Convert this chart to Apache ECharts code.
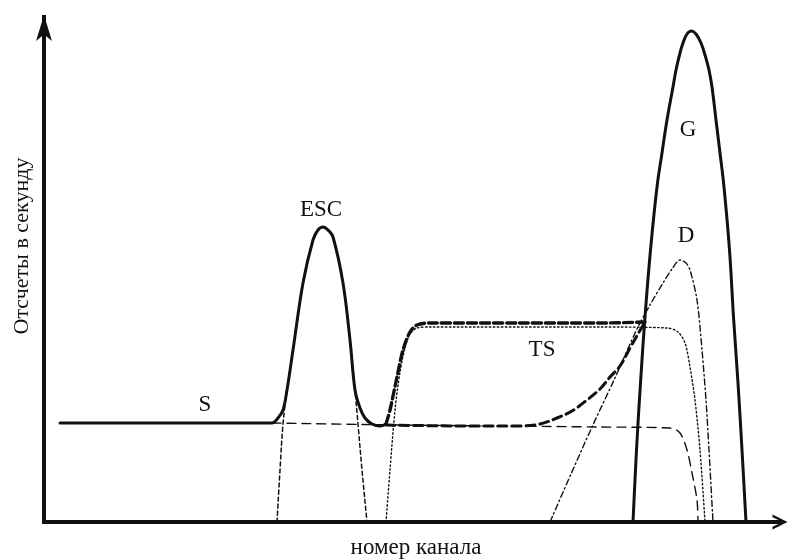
<!DOCTYPE html>
<html>
<head>
<meta charset="utf-8">
<script src="https://cdn.jsdelivr.net/npm/echarts@6/dist/echarts.min.js"></script>
<style>
  html, body { margin: 0; padding: 0; background: #ffffff; }
  #chart { width: 789px; height: 560px; }
</style>
</head>
<body>
<div id="chart"></div>
<script>
// Schematic gamma spectrum: channel number vs counts per second (arbitrary units)

// Measured sum curve: background step S plus the escape peak ESC
const sumEscChannels = [16, 228, 234, 239, 243, 249, 259, 269, 274, 279, 284, 289, 299, 306, 311, 316, 321, 328, 336, 342];
const sumEscCounts   = [99, 99, 104, 112, 132, 172, 239, 282, 292, 295, 292, 285, 239, 182, 132, 114, 104, 98, 96, 98];

// Sum curve over the TS plateau
const sumTsChannels = [342, 346, 353, 359, 366, 373, 386, 476, 556, 601];
const sumTsCounts   = [98, 112, 145, 172, 190, 197, 199, 199, 199, 200];

// Sum curve of the step with the low-energy tail of the full-energy peak
const sumTailChannels = [342, 426, 476, 496, 513, 528, 543, 556, 566, 576, 586, 594, 601];
const sumTailCounts   = [97, 96, 96, 98, 104, 111, 122, 133, 145, 156, 174, 188, 200];

// Step component S
const stepChannels = [228, 356, 556, 626, 636, 643, 648, 653, 654];
const stepCounts   = [99, 97, 95, 94, 89, 72, 49, 22, 0];

// Escape peak component ESC
const escChannels = [233, 236, 239, 243, 249, 259, 269, 274, 279, 284, 289, 299, 306, 311, 314, 318, 323];
const escCounts   = [0, 52, 98, 132, 172, 239, 282, 292, 295, 292, 285, 239, 182, 132, 98, 52, 0];

// TS component
const tsChannels = [342, 346, 351, 356, 361, 366, 373, 386, 556, 623, 634, 641, 646, 651, 656, 661];
const tsCounts   = [0, 52, 112, 150, 174, 188, 194, 195, 195, 194, 190, 179, 155, 122, 72, 0];

// D component
const dChannels = [506, 527, 548, 570, 593, 606, 619, 628, 636, 642, 646, 653, 658, 662, 665, 669];
const dCounts   = [0, 48, 95, 142, 193, 217, 239, 253, 262, 259, 252, 222, 172, 122, 72, 0];

// Full-energy peak G
const gChannels = [589, 592.5, 596.5, 601, 606.5, 613, 618, 623, 629, 632, 636, 639, 643, 647.5, 652, 657, 661, 665, 668, 672, 676, 680, 685.5, 689.5, 694, 698, 702];
const gCounts   = [0, 72, 139, 205, 272, 335, 369, 402, 435, 452, 469, 479, 488, 491, 488, 479, 467, 452, 435, 402, 369, 335, 272, 205, 139, 72, 0];

// Component names and where they are written
const labelNames    = ['S', 'ESC', 'TS', 'G', 'D'];
const labelChannels = [161, 277, 498, 644, 642];
const labelCounts   = [117, 312, 172, 392, 286];

const xName = 'номер канала';
const yName = 'Отсчеты в секунду';

const pairs = (xs, ys) => xs.map((x, i) => [x, ys[i]]);

const FONT = '"Liberation Serif", "DejaVu Serif", serif';
const INK = '#111111';

function curve(name, xs, ys, width, type, z, smooth) {
  return {
    name: name,
    type: 'line',
    data: pairs(xs, ys),
    showSymbol: false,
    smooth: smooth,
    z: z,
    lineStyle: { color: INK, width: width, type: type, cap: 'round' },
    emphasis: { disabled: true },
    silent: true
  };
}

const chart = echarts.init(document.getElementById('chart'), null, { renderer: 'canvas' });

chart.setOption({
  animation: false,
  backgroundColor: '#ffffff',
  grid: { left: 44, right: 9, top: 15, bottom: 38 },
  xAxis: {
    type: 'value',
    min: 0,
    max: 736,
    axisLine: {
      show: true,
      onZero: false,
      symbol: ['none', 'path://M5,0 L10,10 L8.2,10 L5,3.2 L1.8,10 L0,10 Z'],
      symbolSize: [18, 15],
      lineStyle: { color: INK, width: 4, cap: 'square' }
    },
    axisTick: { show: false },
    axisLabel: { show: false },
    splitLine: { show: false }
  },
  yAxis: {
    type: 'value',
    min: 0,
    max: 507,
    axisLine: {
      show: true,
      onZero: false,
      symbol: ['none', 'arrow'],
      symbolSize: [12, 26],
      lineStyle: { color: INK, width: 4, cap: 'butt' }
    },
    axisTick: { show: false },
    axisLabel: { show: false },
    splitLine: { show: false }
  },
  graphic: [
    {
      type: 'text',
      x: 22,
      y: 246,
      rotation: Math.PI / 2,
      style: {
        text: yName,
        fill: INK,
        font: '22px ' + FONT,
        align: 'center',
        verticalAlign: 'middle'
      }
    },
    {
      type: 'text',
      x: 416,
      y: 548,
      style: {
        text: xName,
        fill: INK,
        font: '23px ' + FONT,
        align: 'center',
        verticalAlign: 'middle'
      }
    }
  ],
  series: [
    curve('S', stepChannels, stepCounts, 1.4, [9, 6], 2, 0.3),
    curve('ESC', escChannels, escCounts, 1.5, [4, 3], 2, 0.35),
    curve('TS', tsChannels, tsCounts, 1.4, [1.5, 2.5], 2, 0.3),
    curve('D', dChannels, dCounts, 1.4, [6, 3, 1.5, 3], 2, 0.3),
    curve('G', gChannels, gCounts, 3, 'solid', 4, 0.4),
    curve('S+ESC', sumEscChannels, sumEscCounts, 3, 'solid', 4, 0.35),
    curve('S+TS', sumTsChannels, sumTsCounts, 3.4, [9, 4], 4, 0.3),
    curve('S+tail', sumTailChannels, sumTailCounts, 3, [9, 5], 4, 0.35),
    {
      type: 'scatter',
      symbolSize: 0,
      silent: true,
      z: 6,
      itemStyle: { opacity: 1 },
      data: labelNames.map((n, i) => ({ name: n, value: [labelChannels[i], labelCounts[i]] })),
      label: {
        show: true,
        position: [0, 0],
        align: 'center',
        verticalAlign: 'middle',
        formatter: '{b}',
        color: INK,
        opacity: 1,
        textBorderWidth: 0,
        fontFamily: FONT,
        fontSize: 23
      }
    }
  ]
});
</script>
</body>
</html>
